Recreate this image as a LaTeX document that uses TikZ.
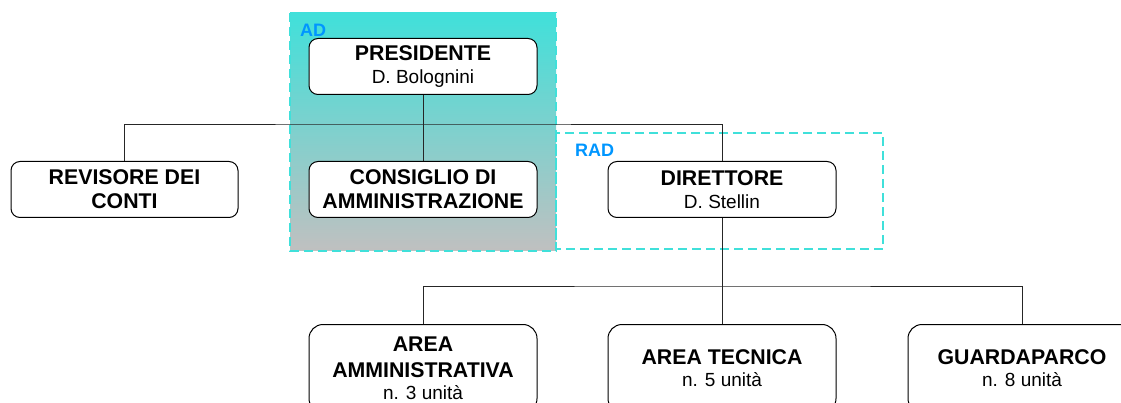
\documentclass[tikz,border=0pt]{standalone}
\usepackage{fontspec}
\setmainfont{Liberation Sans}
\usepackage{xcolor}
\usepackage{tikz}
\usetikzlibrary{positioning,calc}

\definecolor{turchese}{RGB}{64,224,218}
\definecolor{grigioad}{RGB}{192,192,192}
\definecolor{bluead}{RGB}{0,150,255}
\newcommand{\sotto}[1]{{\fontsize{19}{21}\selectfont\mdseries #1}}

\begin{document}
\begin{tikzpicture}[
    x=1pt, y=-1pt,
    ente/.style={rectangle, draw=black, fill=white, line width=1pt, rounded corners=9pt, minimum width=228pt, minimum height=56pt, align=center, font=\fontsize{21.3}{25}\selectfont\bfseries, inner sep=0pt},
    area/.style={ente, minimum height=88pt, rounded corners=14pt},
    linea/.style={draw=black!85, line width=0.9pt},
    gruppo/.style={draw=turchese, line width=2pt, dash pattern=on 9pt off 5pt},
    sigla/.style={anchor=base west, text=bluead, font=\fontsize{18}{20}\selectfont\bfseries, inner sep=0pt}
]
    \clip (0,0) rectangle (1121,403);

    % gruppi AD e RAD
    \path[top color=turchese, bottom color=grigioad] (290,13) rectangle (556,251);
    \draw[gruppo] (556,133) rectangle (883,249);
    \draw[gruppo] (290,13) rectangle (556,251);
    \node[sigla] (ad) at (300,37) {AD};
    \node[sigla] (rad) at (575,157) {RAD};

    % vertice
    \node[ente] (presidente) at (423,66.5) {PRESIDENTE\\[-2pt]\sotto{D. Bolognini}};
    \node[ente, below=66pt of presidente] (consiglio) {CONSIGLIO DI\\[-1pt]AMMINISTRAZIONE};
    \node[ente, left=70pt of consiglio, minimum width=227pt] (revisore) {REVISORE DEI\\[-1pt]CONTI};
    \node[ente, right=70pt of consiglio] (direttore) {DIRETTORE\\[-2pt]\sotto{D. Stellin}};

    % aree
    \node[area, below=106pt of direttore] (tecnica) {AREA TECNICA\\[-3pt]\sotto{n. 5 unità}};
    \node[area, left=70pt of tecnica] (amministrativa) {AREA\\[1pt]AMMINISTRATIVA\\[-3pt]\sotto{n. 3 unità}};
    \node[area, right=71pt of tecnica] (guardaparco) {GUARDAPARCO\\[-3pt]\sotto{n. 8 unità}};

    % collegamenti
    \coordinate (snodo) at ([yshift=-29pt]presidente.south);
    \coordinate (snodoaree) at ([yshift=-68pt]direttore.south);
    \draw[linea] (presidente) -- (consiglio);
    \draw[linea] (revisore.north) |- (snodo) -| (direttore.north);
    \draw[linea] (direttore) -- (tecnica);
    \draw[linea] (amministrativa.north) |- (snodoaree) -| (guardaparco.north);
\end{tikzpicture}
\end{document}
